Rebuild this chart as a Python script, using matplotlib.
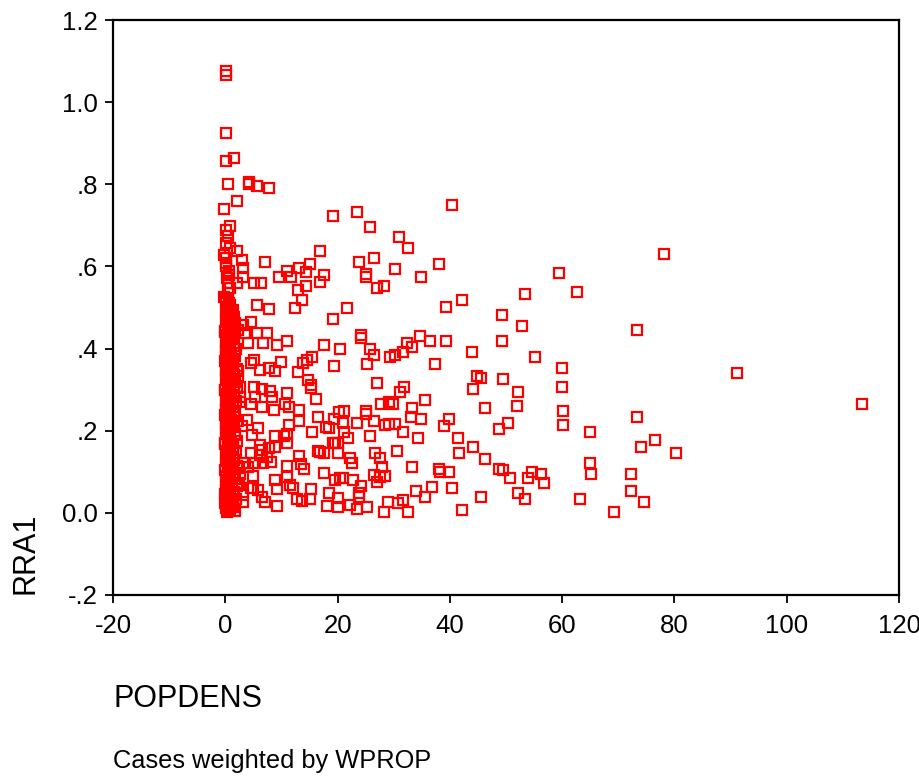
import matplotlib.pyplot as plt

plt.rcParams['font.family'] = ['Liberation Sans', 'DejaVu Sans']

# scattered cases (POPDENS, RRA1)
popdens = [0.2, 0.2, 0.2, 0.2, 1.6, 0.5, 4.3, 4.3, 5.7, 7.8,
           2.0, -0.2, 19.1, 0.9, 0.2, 0.5, 0.2, 2.0, 16.9, -0.2,
           0.2, 2.9, 7.1, 0.2, 3.2, 11.0, 13.2, 15.0, 14.4, 17.6,
           0.7, 3.2, 9.6, 11.7, 0.5, 2.1, 5.2, 6.4, 14.4, 16.9,
           13.0, 13.7, -0.2, 0.2, 0.2, 5.7, 7.7, 12.5, 21.6,
           19.1, 4.5, 1.8, 3.2, 5.7, 7.5, 3.6, 4.1, 6.8, 9.3,
           11.0, 17.6, 20.5, 4.5, 5.2, 6.1, 7.7, 8.9, 10.0, 13.0,
           13.9, 14.6, 15.5, 19.4, 2.3, 2.3, 14.8, 15.2, 15.2, 2.7,
           5.2, 6.6, 8.0, 11.0, 2.7, 5.3, 8.4, 16.2, 2.7, 4.6,
           6.6, 8.6, 10.7, 11.4, 13.2, 16.6, 3.9, 11.4, 13.2, 18.0,
           18.4, 3.0, 5.9, 15.5, 4.8, 8.9, 10.5, 11.0, 11.0, 8.9,
           6.2, 6.6, 7.7, 19.1, 19.6, 20.1, 20.1, 16.6, 16.9, 17.5,
           4.5, 6.2, 7.5, 13.2, 3.2, 5.3, 6.8, 8.2, 11.0, 13.4,
           14.1, 2.5, 4.1, 17.5, 2.7, 5.0, 8.9, 11.0, 2.5, 4.5,
           5.0, 5.9, 9.3, 11.6, 12.1, 15.2, 3.2, 6.6, 18.4, 12.8,
           13.7, 15.0, 3.2, 7.1, 9.3, 18.2,
           23.5, 40.3, 25.7, 31.0, 32.6, 23.9, 26.4, 25.0, 25.0, 30.3,
           34.8, 38.0, 59.4, 62.6, 27.1, 28.2, 53.3, 42.2, 39.4, 49.2,
           52.9, 24.2, 24.2, 34.6, 36.5, 39.4, 49.2, 25.7, 26.4, 32.3,
           33.3, 31.7, 43.9, 55.1, 29.4, 30.3,
           25.3, 37.3, 59.9, 44.9, 45.6, 49.4, 27.1, 59.9, 31.2, 31.9,
           44.2, 52.2, 35.5, 27.8, 29.2, 29.8, 33.3, 33.0, 34.8, 46.3,
           51.9, 60.2, 21.2, 20.3, 25.0, 25.0, 26.4, 23.5, 19.4, 21.0,
           28.5, 29.2, 30.3, 39.8, 39.0, 50.4, 48.7, 60.2, 21.2, 21.9,
           31.6, 25.7, 34.4, 41.4, 44.2, 41.7, 46.3, 26.7, 27.5, 22.3,
           22.5, 30.5, 28.0, 33.3, 38.0, 38.3, 39.8, 48.8, 49.4, 50.8,
           54.7, 56.3, 54.0, 56.7, 26.4, 27.1, 28.5, 27.6, 22.8, 24.2,
           20.5, 19.6, 21.0, 36.9, 34.0, 35.5, 40.3, 52.2, 53.3, 45.6,
           23.9, 23.9, 20.0, 20.1, 22.3, 23.5, 25.3, 28.9, 30.8, 31.7,
           28.2, 32.6, 42.1,
           78.1, 73.3, 91.1, 113.4, 73.3, 64.9, 76.6, 74.0, 80.2, 64.9,
           65.2, 72.2, 72.2, 74.5, 63.1, 69.3]
rra1 = [1.077, 1.067, 0.925, 0.857, 0.864, 0.80, 0.805, 0.80, 0.796, 0.79,
        0.759, 0.74, 0.723, 0.698, 0.689, 0.674, 0.657, 0.638, 0.637, 0.628,
        0.62, 0.616, 0.61, 0.60, 0.596, 0.589, 0.596, 0.606, 0.586, 0.579,
        0.58, 0.575, 0.575, 0.575, 0.56, 0.56, 0.56, 0.56, 0.552, 0.562,
        0.543, 0.518, 0.525, 0.52, 0.515, 0.506, 0.496, 0.50, 0.50,
        0.472, 0.465, 0.457, 0.457, 0.438, 0.438, 0.438, 0.414, 0.414, 0.409,
        0.418, 0.409, 0.399, 0.365, 0.372, 0.348, 0.353, 0.346, 0.367, 0.343,
        0.365, 0.372, 0.38, 0.358, 0.346, 0.333, 0.324, 0.311, 0.304, 0.307,
        0.307, 0.302, 0.297, 0.292, 0.282, 0.282, 0.282, 0.277, 0.27, 0.265,
        0.258, 0.25, 0.265, 0.258, 0.25, 0.234, 0.226, 0.214, 0.224, 0.209,
        0.207, 0.212, 0.207, 0.197, 0.19, 0.187, 0.187, 0.192, 0.17, 0.161,
        0.165, 0.153, 0.158, 0.17, 0.17, 0.17, 0.146, 0.151, 0.148, 0.146,
        0.146, 0.141, 0.136, 0.139, 0.122, 0.122, 0.122, 0.124, 0.114, 0.119,
        0.107, 0.109, 0.112, 0.097, 0.095, 0.09, 0.08, 0.088, 0.073, 0.061,
        0.061, 0.056, 0.058, 0.068, 0.061, 0.058, 0.044, 0.039, 0.049, 0.034,
        0.029, 0.034, 0.027, 0.027, 0.017, 0.017,
        0.732, 0.749, 0.696, 0.672, 0.645, 0.611, 0.62, 0.582, 0.574, 0.594,
        0.574, 0.606, 0.584, 0.538, 0.547, 0.552, 0.533, 0.518, 0.501, 0.482,
        0.455, 0.433, 0.425, 0.431, 0.418, 0.418, 0.418, 0.399, 0.384, 0.414,
        0.404, 0.392, 0.392, 0.38, 0.38, 0.384,
        0.362, 0.362, 0.353, 0.333, 0.328, 0.326, 0.316, 0.307, 0.294, 0.307,
        0.302, 0.294, 0.275, 0.265, 0.27, 0.265, 0.255, 0.234, 0.229, 0.255,
        0.26, 0.248, 0.248, 0.246, 0.248, 0.24, 0.224, 0.219, 0.229, 0.219,
        0.214, 0.216, 0.216, 0.229, 0.212, 0.219, 0.204, 0.214, 0.197, 0.182,
        0.197, 0.187, 0.182, 0.182, 0.161, 0.146, 0.131, 0.146, 0.134, 0.134,
        0.122, 0.151, 0.112, 0.112, 0.107, 0.10, 0.10, 0.107, 0.105, 0.085,
        0.10, 0.095, 0.085, 0.073, 0.092, 0.075, 0.09, 0.088, 0.08, 0.066,
        0.085, 0.08, 0.085, 0.063, 0.054, 0.039, 0.061, 0.049, 0.034, 0.039,
        0.049, 0.039, 0.036, 0.015, 0.019, 0.01, 0.015, 0.027, 0.024, 0.032,
        0.002, 0.002, 0.007,
        0.63, 0.445, 0.341, 0.265, 0.234, 0.197, 0.178, 0.161, 0.146, 0.122,
        0.095, 0.095, 0.054, 0.027, 0.034, 0.002]

# dense column of low-density cases near POPDENS = 0
popdens_col = [0.3, 0.9, 0.1, 1.4, 0.6, 0.2, 1.1, 0.4, 0.8, 0.0, 1.6, 0.5, 0.2, 1.2,
               0.7, 0.3, 0.9, 0.1, 1.5, 0.6, 0.0, 1.0, 0.4, 0.8, 0.2, 1.3, 0.5, 0.1,
               0.9, 0.3, 1.4, 0.7, 0.0, 1.1, 0.4, 0.6, 1.7, 0.2, 0.8, 0.5, 1.2, 0.1,
               0.3, 1.0, 0.6, 0.0, 1.5, 0.4, 0.9, 0.2, 1.3, 0.7, 0.1, 0.5, 1.1, 0.3,
               0.8, 0.0, 1.6, 0.4, 0.6, 1.2, 0.2, 0.9, 0.5, 1.4, 0.1, 0.7, 1.0, 0.3,
               0.0, 1.3, 0.6, 0.4, 1.1, 0.8, 0.2, 1.5, 0.5, 0.1, 0.9, 1.2, 0.3, 0.7,
               0.0, 1.0, 0.4, 0.6, 1.4, 0.2, 0.8, 1.1, 0.5, 0.1, 1.3, 0.3, 0.9, 0.7,
               1.8, 1.2, 1.9, 1.5, 2.0, 1.7, 1.4, 2.1, 1.6, 1.9, 1.3, 2.0, 1.8, 1.5,
               2.2, 1.7, 1.4, 1.9, 1.6, 2.1, 1.8, 1.5, 2.0, 1.3, 1.7, 1.9, 1.6, 1.4,
               2.2, 1.8, 1.5, 1.1, 0.4, 0.8, 0.3, 0.6, 0.1, 0.9,
               0.5, 0.0, 0.7, 0.2, 0.4, 0.1, 0.6, 0.3, 0.8, 0.0, 0.5, 0.2, 0.7, 0.4,
               0.1, 0.6, 0.3, 0.0, 0.8, 0.5, 0.2, 0.4, 0.7, 0.1, 0.3, 0.6, 0.0, 0.5]
rra1_col = [0.002, 0.006, 0.011, 0.015, 0.021, 0.026, 0.03, 0.036, 0.041, 0.047, 0.052, 0.058, 0.062, 0.069,
            0.073, 0.078, 0.084, 0.089, 0.094, 0.1, 0.104, 0.109, 0.115, 0.121, 0.126, 0.13, 0.137, 0.142,
            0.147, 0.151, 0.158, 0.163, 0.167, 0.174, 0.179, 0.183, 0.19, 0.195, 0.2, 0.206, 0.211, 0.216,
            0.222, 0.227, 0.232, 0.238, 0.243, 0.247, 0.253, 0.259, 0.264, 0.268, 0.275, 0.279, 0.284, 0.29,
            0.295, 0.3, 0.306, 0.311, 0.316, 0.322, 0.327, 0.331, 0.338, 0.343, 0.348, 0.353, 0.359, 0.364,
            0.369, 0.374, 0.38, 0.385, 0.39, 0.396, 0.401, 0.406, 0.411, 0.417, 0.422, 0.427, 0.432, 0.437,
            0.443, 0.448, 0.453, 0.458, 0.464, 0.469, 0.474, 0.479, 0.485, 0.49, 0.495, 0.501, 0.506, 0.512,
            0.004, 0.017, 0.033, 0.049, 0.066, 0.082, 0.097, 0.113, 0.128, 0.145, 0.161, 0.176, 0.193, 0.209,
            0.224, 0.241, 0.257, 0.272, 0.288, 0.303, 0.319, 0.335, 0.351, 0.366, 0.382, 0.398, 0.414, 0.43,
            0.446, 0.462, 0.478, 0.493, 0.535, 0.548, 0.571, 0.588, 0.609, 0.645,
            0.008, 0.024, 0.039, 0.056, 0.071, 0.087, 0.118, 0.134, 0.155, 0.171, 0.186, 0.203, 0.219, 0.235,
            0.25, 0.262, 0.281, 0.298, 0.314, 0.329, 0.345, 0.362, 0.377, 0.393, 0.409, 0.425, 0.44, 0.456]

xticks = [-20, 0, 20, 40, 60, 80, 100, 120]
yticks = [-0.2, 0.0, 0.2, 0.4, 0.6, 0.8, 1.0, 1.2]
ytick_labels = ['-.2', '0.0', '.2', '.4', '.6', '.8', '1.0', '1.2']

fig = plt.figure(figsize=(9.19, 7.76), dpi=100)
ax = fig.add_axes([113/919, 1 - 595/776, (899 - 113)/919, (595 - 20)/776])

ax.plot(popdens_col, rra1_col, 's', ms=6.5, mfc='none', mec='#ff0000', mew=1.6)
ax.plot(popdens, rra1, 's', ms=6.5, mfc='none', mec='#ff0000', mew=1.6)

ax.set_xlim(-20, 120)
ax.set_ylim(-0.2, 1.2)
ax.set_xticks(xticks)
ax.set_xticklabels([str(t) for t in xticks])
ax.set_yticks(yticks)
ax.set_yticklabels(ytick_labels)
ax.tick_params(direction='out', length=6, width=1.3, labelsize=18.5)
ax.tick_params(axis='x', pad=8)
ax.tick_params(axis='y', pad=5)
for s in ax.spines.values():
    s.set_linewidth(1.6)

fig.text(11/919, 1 - 594/776, 'RRA1', rotation=90, fontsize=22, ha='left', va='bottom')
fig.text(113/919, 1 - 707/776, 'POPDENS', fontsize=22, ha='left', va='baseline')
fig.text(113/919, 1 - 768/776, 'Cases weighted by WPROP', fontsize=18.3, ha='left', va='baseline')

fig.savefig('out.png', dpi=100)
